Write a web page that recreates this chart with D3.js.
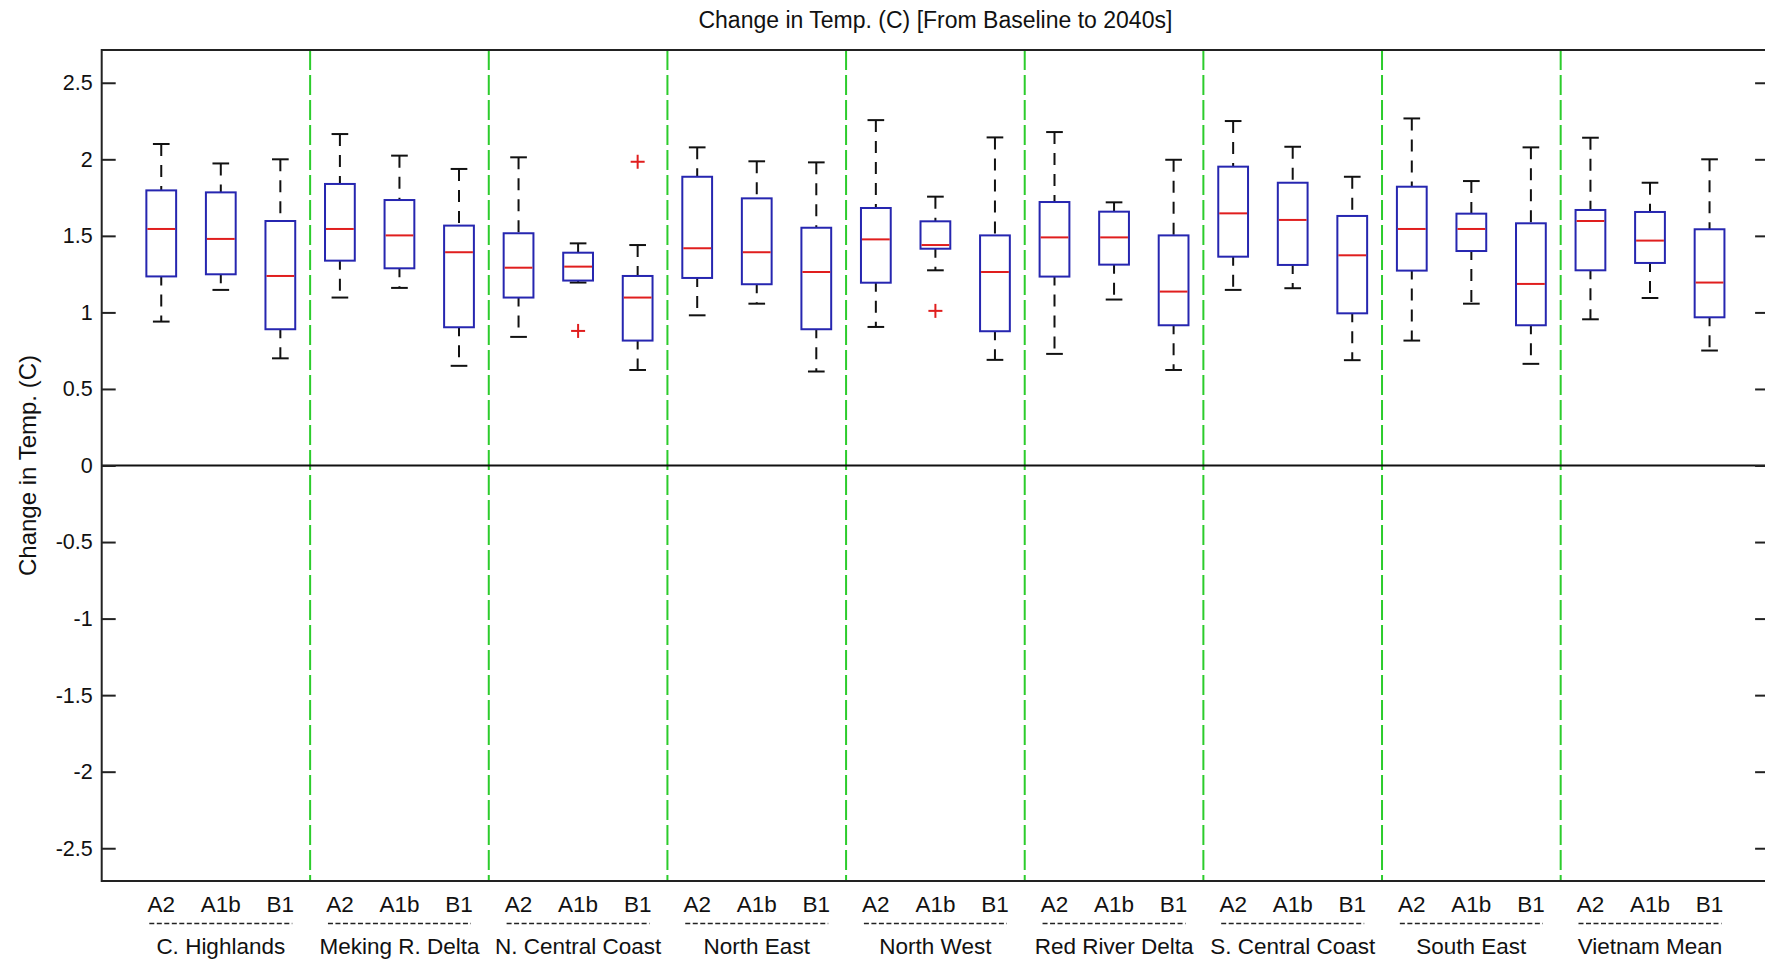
<!DOCTYPE html>
<html>
<head>
<meta charset="utf-8">
<script src="https://cdn.jsdelivr.net/npm/d3@7"></script>
<style>
  html, body { margin: 0; padding: 0; background: #ffffff; }
  svg { display: block; }
  text { font-family: "Liberation Sans", Arial, Helvetica, sans-serif; fill: #111; }
</style>
</head>
<body>
<svg id="chart" width="1765" height="966"></svg>
<script>
// Regions (groups) and emission scenarios (boxes within each group)
const regions = ["C. Highlands", "Meking R. Delta", "N. Central Coast", "North East",
                 "North West", "Red River Delta", "S. Central Coast", "South East", "Vietnam Mean"];
const scenarios = ["A2", "A1b", "B1"];

// Box statistics, one entry per box, ordered region by region (A2, A1b, B1)
const whiskerLow  = [0.94, 1.147, 0.70,  1.097, 1.16, 0.651,  0.84, 1.195, 0.624,
                     0.981, 1.057, 0.614,  0.905, 1.275, 0.69,  0.729, 1.084, 0.624,
                     1.147, 1.158, 0.688,  0.816, 1.057, 0.664,  0.955, 1.094, 0.751];
const quart1      = [1.235, 1.249, 0.89,  1.338, 1.288, 0.903,  1.097, 1.208, 0.816,
                     1.225, 1.184, 0.89,  1.194, 1.416, 0.877,  1.234, 1.312, 0.916,
                     1.364, 1.31, 0.994,  1.273, 1.401, 0.916,  1.275, 1.323, 0.968];
const medians     = [1.545, 1.48, 1.238,  1.545, 1.503, 1.393,  1.292, 1.299, 1.097,
                     1.419, 1.393, 1.264,  1.477, 1.44, 1.264,  1.49, 1.49, 1.136,
                     1.647, 1.604, 1.373,  1.545, 1.545, 1.186,  1.597, 1.469, 1.195];
const quart3      = [1.797, 1.784, 1.597,  1.839, 1.734, 1.567,  1.517, 1.39, 1.238,
                     1.886, 1.745, 1.553,  1.682, 1.595, 1.503,  1.721, 1.658, 1.503,
                     1.952, 1.847, 1.63,  1.821, 1.645, 1.582,  1.669, 1.656, 1.543];
const whiskerHigh = [2.10, 1.973, 2.00,  2.165, 2.024, 1.937,  2.013, 1.451, 1.44,
                     2.078, 1.987, 1.98,  2.256, 1.756, 2.143,  2.178, 1.719, 1.997,
                     2.25, 2.082, 1.886,  2.267, 1.858, 2.078,  2.141, 1.847, 2.0];

// Outliers: box position (1-based) and value
const outlierPos   = [8, 9, 14];
const outlierValue = [0.879, 1.984, 1.01];

// Y axis ticks and their labels
const yTicks      = [-2.5, -2, -1.5, -1, -0.5, 0, 0.5, 1, 1.5, 2, 2.5];
const yTickLabels = ["-2.5", "-2", "-1.5", "-1", "-0.5", "0", "0.5", "1", "1.5", "2", "2.5"];

const titleText = "Change in Temp. (C) [From Baseline to 2040s]";
const yLabelText = "Change in Temp. (C)";

// ---- layout ----
const plotLeft = 101.7, plotTop = 50, plotBottom = 881;
const nBoxes = regions.length * scenarios.length;

const svg = d3.select("#chart");

const x = d3.scaleLinear().domain([0, nBoxes + 1]).range([plotLeft, plotLeft + 59.55 * (nBoxes + 1)]);
const y = d3.scaleLinear().domain([-2.714, 2.714]).range([plotBottom, plotTop]);
const plotRight = x(nBoxes + 1);

const boxes = d3.range(nBoxes).map(i => ({
  pos: i + 1,
  lo: whiskerLow[i], q1: quart1[i], med: medians[i], q3: quart3[i], hi: whiskerHigh[i]
}));

// white plot background
svg.append("rect").attr("x", 0).attr("y", 0).attr("width", 1765).attr("height", 966).attr("fill", "#ffffff");

// group separators (green dashed)
const seps = d3.range(1, regions.length).map(k => k * scenarios.length + 0.5);
svg.append("g").selectAll("line").data(seps).join("line")
  .attr("x1", d => x(d)).attr("x2", d => x(d))
  .attr("y1", plotTop).attr("y2", plotBottom)
  .attr("stroke", "#2ccc2c").attr("stroke-width", 2)
  .attr("stroke-dasharray", "20,5");

// zero reference line
svg.append("line")
  .attr("x1", plotLeft).attr("x2", plotRight)
  .attr("y1", y(0)).attr("y2", y(0))
  .attr("stroke", "#111").attr("stroke-width", 2);

// boxes
const halfBox = (x(0.25) - x(0));
const halfCap = (x(0.14) - x(0));
const bg = svg.append("g");
const b = bg.selectAll("g.box").data(boxes).join("g").attr("class", "box");

// whiskers (dashed black)
b.append("line")
  .attr("x1", d => x(d.pos)).attr("x2", d => x(d.pos))
  .attr("y1", d => y(d.hi)).attr("y2", d => y(d.q3))
  .attr("stroke", "#111").attr("stroke-width", 2).attr("stroke-dasharray", "12,9");
b.append("line")
  .attr("x1", d => x(d.pos)).attr("x2", d => x(d.pos))
  .attr("y1", d => y(d.q1)).attr("y2", d => y(d.lo))
  .attr("stroke", "#111").attr("stroke-width", 2).attr("stroke-dasharray", "12,9")
  .attr("stroke-dashoffset", 3);
// whisker caps
b.append("line")
  .attr("x1", d => x(d.pos) - halfCap).attr("x2", d => x(d.pos) + halfCap)
  .attr("y1", d => y(d.hi)).attr("y2", d => y(d.hi))
  .attr("stroke", "#111").attr("stroke-width", 2);
b.append("line")
  .attr("x1", d => x(d.pos) - halfCap).attr("x2", d => x(d.pos) + halfCap)
  .attr("y1", d => y(d.lo)).attr("y2", d => y(d.lo))
  .attr("stroke", "#111").attr("stroke-width", 2);
// box body
b.append("rect")
  .attr("x", d => x(d.pos) - halfBox)
  .attr("width", 2 * halfBox)
  .attr("y", d => y(d.q3))
  .attr("height", d => y(d.q1) - y(d.q3))
  .attr("fill", "none").attr("stroke", "#2626b0").attr("stroke-width", 2);
// median
b.append("line")
  .attr("x1", d => x(d.pos) - halfBox + 1).attr("x2", d => x(d.pos) + halfBox - 1)
  .attr("y1", d => y(d.med)).attr("y2", d => y(d.med))
  .attr("stroke", "#e01e1e").attr("stroke-width", 2);

// outliers (red plus)
const outs = outlierPos.map((p, i) => ({ pos: p, v: outlierValue[i] }));
const og = svg.append("g").selectAll("g").data(outs).join("g")
  .attr("transform", d => `translate(${x(d.pos)},${y(d.v)})`);
og.append("line").attr("x1", -7).attr("x2", 7).attr("y1", 0).attr("y2", 0)
  .attr("stroke", "#e01e1e").attr("stroke-width", 2);
og.append("line").attr("x1", 0).attr("x2", 0).attr("y1", -7).attr("y2", 7)
  .attr("stroke", "#e01e1e").attr("stroke-width", 2);

// axes frame
svg.append("rect")
  .attr("x", plotLeft).attr("y", plotTop)
  .attr("width", plotRight - plotLeft).attr("height", plotBottom - plotTop)
  .attr("fill", "none").attr("stroke", "#222").attr("stroke-width", 2);

// left axis with inward ticks
const yAxisL = d3.axisLeft(y).tickValues(yTicks)
  .tickFormat((d, i) => yTickLabels[i])
  .tickSizeInner(-14).tickSizeOuter(0).tickPadding(9);
const gl = svg.append("g").attr("transform", `translate(${plotLeft},0)`).call(yAxisL);
gl.select(".domain").remove();
gl.selectAll(".tick line").attr("stroke", "#222").attr("stroke-width", 2);
gl.selectAll(".tick text").style("font-size", "21.5px")
  .style("font-family", "'Liberation Sans', Arial, sans-serif").attr("fill", "#111");

// right axis with inward ticks
const yAxisR = d3.axisRight(y).tickValues(yTicks).tickFormat("")
  .tickSizeInner(-14).tickSizeOuter(0);
const gr = svg.append("g").attr("transform", `translate(${plotRight},0)`).call(yAxisR);
gr.select(".domain").remove();
gr.selectAll(".tick line").attr("stroke", "#222").attr("stroke-width", 2);

// scenario labels under each box
svg.append("g").selectAll("text").data(boxes).join("text")
  .attr("x", d => x(d.pos)).attr("y", 911.5)
  .attr("text-anchor", "middle")
  .style("font-size", "22.5px")
  .text(d => scenarios[(d.pos - 1) % scenarios.length]);

// dashed rule and region name under each group
const groupCenters = regions.map((r, k) => ({ name: r, pos: k * scenarios.length + 2 }));
svg.append("g").selectAll("line").data(groupCenters).join("line")
  .attr("x1", d => x(d.pos) - 71.5).attr("x2", d => x(d.pos) + 71.5)
  .attr("y1", 923.5).attr("y2", 923.5)
  .attr("stroke", "#222").attr("stroke-width", 1.6)
  .attr("stroke-dasharray", "5,2.5");
svg.append("g").selectAll("text").data(groupCenters).join("text")
  .attr("x", d => x(d.pos)).attr("y", 953.5)
  .attr("text-anchor", "middle")
  .style("font-size", "22.5px")
  .text(d => d.name);

// title
svg.append("text")
  .attr("x", (plotLeft + plotRight) / 2).attr("y", 28)
  .attr("text-anchor", "middle")
  .style("font-size", "23px")
  .text(titleText);

// y axis label
svg.append("text")
  .attr("transform", `translate(36,${(plotTop + plotBottom) / 2}) rotate(-90)`)
  .attr("text-anchor", "middle")
  .style("font-size", "24px")
  .text(yLabelText);
</script>
</body>
</html>
